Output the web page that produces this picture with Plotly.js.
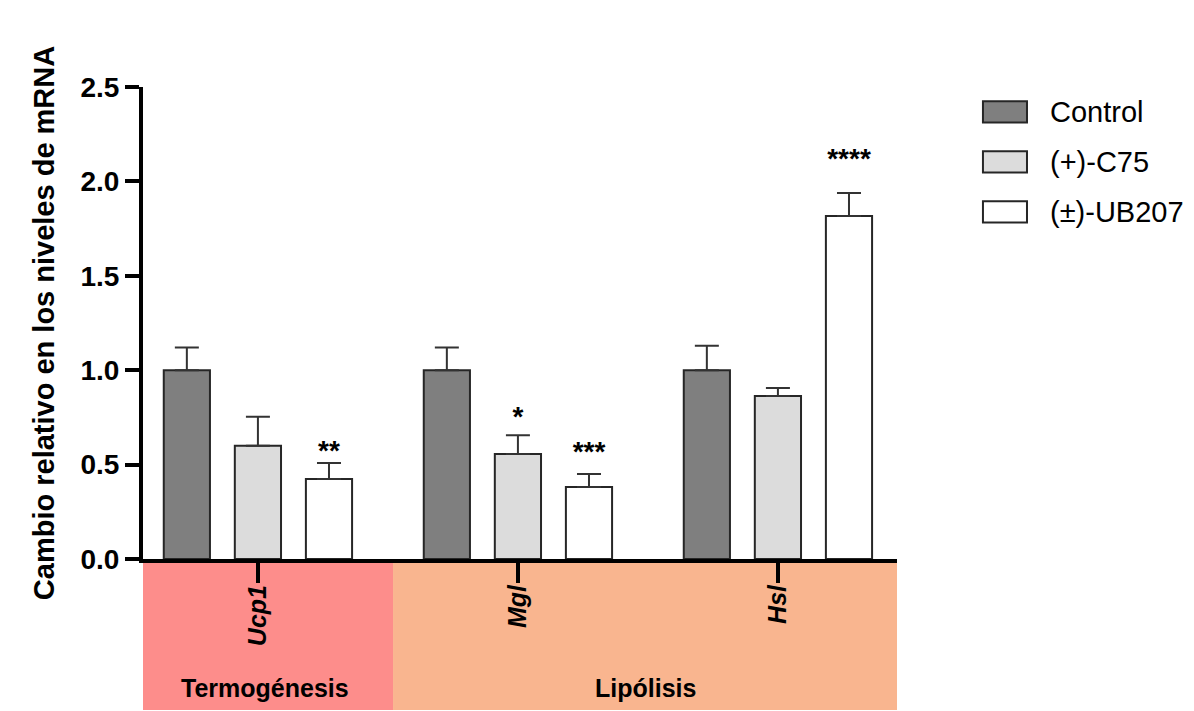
<!DOCTYPE html>
<html>
<head>
<meta charset="utf-8">
<script src="https://cdn.plot.ly/plotly-3.0.1.min.js"></script>
<style>html,body{margin:0;padding:0;background:#fff;}#chart{width:1194px;height:711px;}</style>
</head>
<body>
<div id="chart"></div>
<script>
// ---- data ----
const genes = ['Ucp1', 'Mgl', 'Hsl'];
const seriesNames = ['Control', '(+)-C75', '(±)-UB207'];
const controlVals = [1.00, 1.00, 1.00];
const controlErr = [0.12, 0.12, 0.13];
const c75Vals = [0.60, 0.556, 0.863];
const c75Err = [0.153, 0.10, 0.043];
const ub207Vals = [0.424, 0.381, 1.817];
const ub207Err = [0.085, 0.069, 0.122];
// significance marks per series (per gene) and their heights
const c75Stars = ['', '*', ''];
const c75StarY = [null, 0.741, null];
const ub207Stars = ['**', '***', '****'];
const ub207StarY = [0.561, 0.556, 2.108];
const groupNames = ['Termogénesis', 'Lipólisis'];
const yTicks = [0, 0.5, 1.0, 1.5, 2.0, 2.5];

// ---- style ----
const fills = ['#7f7f7f', '#dcdcdc', '#ffffff'];
const outline = '#262626';
const font = 'Liberation Sans, Arial, Helvetica, sans-serif';

const vals = [controlVals, c75Vals, ub207Vals];
const errs = [controlErr, c75Err, ub207Err];

const traces = vals.map((v, i) => ({
  type: 'bar',
  name: seriesNames[i],
  x: genes,
  y: v,
  offsetgroup: String(i),
  marker: {color: fills[i], line: {color: outline, width: 2}},
  error_y: {type: 'data', array: errs[i], symmetric: false, arrayminus: errs[i].map(() => 0),
            color: '#333333', thickness: 2, width: 12},
  showlegend: false,
  hoverinfo: 'x+y'
}));

const starSets = [[genes.map(() => ''), genes.map(() => null)], [c75Stars, c75StarY], [ub207Stars, ub207StarY]];
starSets.forEach((s, i) => {
  traces.push({
    type: 'scatter',
    mode: 'text',
    x: genes,
    y: s[1],
    text: s[0],
    offsetgroup: String(i),
    textposition: 'middle center',
    textfont: {family: font, size: 28, color: '#000', weight: 'bold'},
    showlegend: false,
    hoverinfo: 'skip',
    cliponaxis: false
  });
});

const shapes = [
  {type: 'rect', xref: 'paper', yref: 'paper', x0: 0, x1: 0.3316, y0: -0.32, y1: -0.002,
   fillcolor: '#fd8d8b', line: {width: 0}, layer: 'below'},
  {type: 'rect', xref: 'paper', yref: 'paper', x0: 0.3316, x1: 1, y0: -0.32, y1: -0.002,
   fillcolor: '#f9b58f', line: {width: 0}, layer: 'below'}
];
const annotations = [
  {text: groupNames[0], xref: 'paper', yref: 'paper', x: 0.162, y: -0.273, xanchor: 'center',
   yanchor: 'middle', showarrow: false, font: {family: font, size: 25, color: '#000', weight: 'bold'}},
  {text: groupNames[1], xref: 'paper', yref: 'paper', x: 0.666, y: -0.273, xanchor: 'center',
   yanchor: 'middle', showarrow: false, font: {family: font, size: 25, color: '#000', weight: 'bold'}}
];
// custom legend with large swatches
seriesNames.forEach((n, i) => {
  const yc = 0.947 - i * 0.106;
  shapes.push({type: 'rect', xref: 'paper', yref: 'paper', x0: 1.114, x1: 1.1724,
               y0: yc - 0.022, y1: yc + 0.023, fillcolor: fills[i], line: {color: outline, width: 2}});
  annotations.push({text: n, xref: 'paper', yref: 'paper', x: 1.2003, y: yc, xanchor: 'left',
                    yanchor: 'middle', showarrow: false, font: {family: font, size: 29, color: '#000'}});
});

const layout = {
  width: 1194, height: 711,
  margin: {l: 143, r: 297, t: 87, b: 152},
  paper_bgcolor: '#ffffff', plot_bgcolor: 'rgba(0,0,0,0)',
  barmode: 'group', bargap: 0.18, bargroupgap: 0.35,
  scattermode: 'group', scattergap: 0.18,
  xaxis: {
    type: 'category', range: [-0.442, 2.458], showline: true, linecolor: '#000', linewidth: 4,
    ticks: 'outside', ticklen: 20, tickwidth: 4, tickcolor: '#000', tickangle: -90,
    ticklabelstandoff: -8,
    tickfont: {family: font, size: 25, color: '#000', weight: 'bold', style: 'italic'},
    showgrid: false, zeroline: false, fixedrange: true
  },
  yaxis: {
    range: [0, 2.5], tickvals: yTicks, tickformat: '.1f', showline: true, linecolor: '#000',
    linewidth: 4, ticks: 'outside', ticklen: 14, tickwidth: 4, tickcolor: '#000',
    tickfont: {family: font, size: 28, color: '#000', weight: 'bold'},
    showgrid: false, zeroline: false, fixedrange: true,
    title: {text: 'Cambio relativo en los niveles de mRNA', standoff: 18,
            font: {family: font, size: 29, color: '#000', weight: 'bold'}}
  },
  shapes: shapes,
  annotations: annotations,
  showlegend: false
};

Plotly.newPlot('chart', traces, layout, {displayModeBar: false, staticPlot: true});
</script>
</body>
</html>
